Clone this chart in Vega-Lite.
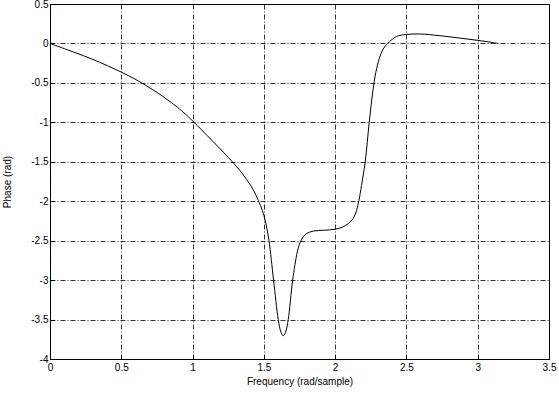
{
  "$schema": "https://vega.github.io/schema/vega-lite/v6.json",
  "width": 499,
  "height": 355,
  "autosize": {"type": "none"},
  "padding": {"left": 50, "top": 4, "right": 10, "bottom": 36},
  "background": "white",
  "config": {
    "view": {"stroke": "black", "strokeWidth": 1},
    "font": "Liberation Sans",
    "axis": {
      "domainColor": "black",
      "domainWidth": 1,
      "tickColor": "black",
      "tickSize": -4,
      "labelColor": "black",
      "labelFontSize": 10,
      "labelFont": "Liberation Sans",
      "titleFont": "Liberation Sans",
      "titleFontSize": 10,
      "titleFontWeight": "normal",
      "titleColor": "black",
      "grid": true,
      "gridColor": "black",
      "gridOpacity": 1,
      "gridWidth": 0.8,
      "gridDash": [5, 2, 1, 2],
      "labelExpr": "datum.value + ''"
    }
  },
  "data": {
    "values": [
      {"f": 0, "p": 0},
      {"f": 0.1, "p": -0.066},
      {"f": 0.234, "p": -0.155},
      {"f": 0.35, "p": -0.24},
      {"f": 0.456, "p": -0.326},
      {"f": 0.55, "p": -0.408},
      {"f": 0.643, "p": -0.5},
      {"f": 0.76, "p": -0.633},
      {"f": 0.877, "p": -0.785},
      {"f": 0.94, "p": -0.88},
      {"f": 1.005, "p": -0.99},
      {"f": 1.064, "p": -1.097},
      {"f": 1.145, "p": -1.246},
      {"f": 1.215, "p": -1.377},
      {"f": 1.285, "p": -1.512},
      {"f": 1.335, "p": -1.618},
      {"f": 1.379, "p": -1.725},
      {"f": 1.43, "p": -1.87},
      {"f": 1.461, "p": -1.99},
      {"f": 1.49, "p": -2.12},
      {"f": 1.51, "p": -2.25},
      {"f": 1.536, "p": -2.5},
      {"f": 1.568, "p": -3.0},
      {"f": 1.601, "p": -3.5},
      {"f": 1.62, "p": -3.66},
      {"f": 1.636, "p": -3.705},
      {"f": 1.652, "p": -3.66},
      {"f": 1.671, "p": -3.5},
      {"f": 1.702, "p": -3.0},
      {"f": 1.735, "p": -2.64},
      {"f": 1.755, "p": -2.52},
      {"f": 1.776, "p": -2.45},
      {"f": 1.8, "p": -2.41},
      {"f": 1.847, "p": -2.378},
      {"f": 1.92, "p": -2.368},
      {"f": 2.0, "p": -2.355},
      {"f": 2.05, "p": -2.33},
      {"f": 2.095, "p": -2.28},
      {"f": 2.127, "p": -2.217},
      {"f": 2.15, "p": -2.12},
      {"f": 2.167, "p": -1.99},
      {"f": 2.185, "p": -1.8},
      {"f": 2.211, "p": -1.5},
      {"f": 2.239, "p": -1.0},
      {"f": 2.265, "p": -0.6},
      {"f": 2.285, "p": -0.37},
      {"f": 2.31, "p": -0.19},
      {"f": 2.337, "p": -0.07},
      {"f": 2.38, "p": 0.02},
      {"f": 2.43, "p": 0.088},
      {"f": 2.5, "p": 0.113},
      {"f": 2.595, "p": 0.12},
      {"f": 2.735, "p": 0.098},
      {"f": 2.875, "p": 0.068},
      {"f": 3.0, "p": 0.039},
      {"f": 3.11, "p": 0.01},
      {"f": 3.1416, "p": 0.0}
    ]
  },
  "mark": {"type": "line", "color": "black", "strokeWidth": 1, "interpolate": "catmull-rom"},
  "encoding": {
    "x": {
      "field": "f",
      "type": "quantitative",
      "scale": {"domain": [0, 3.5], "nice": false, "zero": false},
      "axis": {"values": [0, 0.5, 1, 1.5, 2, 2.5, 3, 3.5], "title": "Frequency (rad/sample)", "labelPadding": 7, "titlePadding": 4, "labelFlush": false}
    },
    "y": {
      "field": "p",
      "type": "quantitative",
      "scale": {"domain": [-4, 0.5], "nice": false, "zero": false},
      "axis": {"values": [-4, -3.5, -3, -2.5, -2, -1.5, -1, -0.5, 0, 0.5], "title": "Phase (rad)", "labelPadding": 6, "titlePadding": 18, "labelFlush": false}
    }
  }
}
